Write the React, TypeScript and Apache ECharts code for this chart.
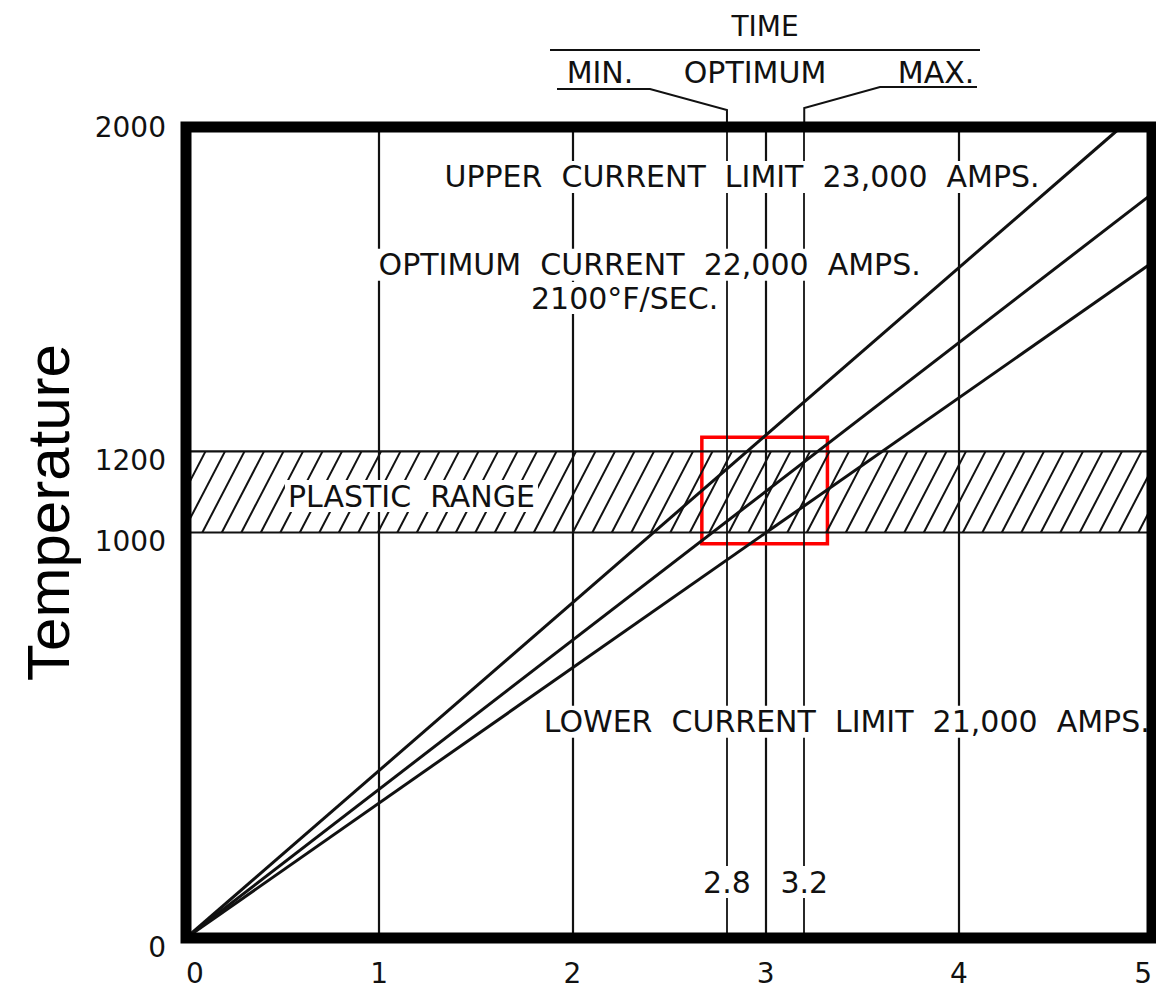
import React, { useEffect, useRef } from "react";
import * as echarts from "echarts";

// ---- data ----
const X_TICKS = [0, 1, 2, 3, 4, 5];
const Y_TICKS = [0, 1000, 1200, 2000];
const UPPER_LIMIT = [[0, 0], [4.84, 2000]];
const OPTIMUM_CURRENT = [[0, 0], [5, 1835]];
const LOWER_LIMIT = [[0, 0], [5, 1665]];
const PLASTIC_RANGE = [1000, 1200];
const TIME_MARKS = [2.8, 3.2];
const HIGHLIGHT_BOX = [[2.67, 972], [3.32, 1235]];

const UPPER_LABEL = "UPPER  CURRENT  LIMIT  23,000  AMPS.";
const OPT_LABEL = "OPTIMUM  CURRENT  22,000  AMPS.";
const RATE_LABEL = "2100°F/SEC.";
const LOWER_LABEL = "LOWER  CURRENT  LIMIT  21,000  AMPS.";
const PLASTIC_LABEL = "PLASTIC  RANGE";

const FONT = '"DejaVu Sans", sans-serif';
const INK = "#111";

export default function App() {
  const ref = useRef<HTMLDivElement>(null);

  useEffect(() => {
    if (!ref.current) return;
    const chart = echarts.init(ref.current, undefined, { renderer: "svg" });

    const annotations = [
      { name: UPPER_LABEL, value: [2.878, 1877] },
      { name: OPT_LABEL, value: [2.4, 1660] },
      { name: RATE_LABEL, value: [2.27, 1578] },
      { name: LOWER_LABEL, value: [3.42, 533] },
      { name: PLASTIC_LABEL, value: [1.167, 1090] },
      ...TIME_MARKS.map((t) => ({ name: String(t), value: [t, 138] })),
    ];

    const lineSeries = (name: string, data: number[][]) => ({
      name,
      type: "line",
      data,
      symbol: "none",
      z: 3,
      lineStyle: { color: INK, width: 3 },
    });

    const option: any = {
      animation: false,
      backgroundColor: "#fff",
      grid: {
        left: 186,
        right: 4,
        top: 127,
        bottom: 54,
        outerBoundsMode: "none",
        containLabel: false,
      },
      xAxis: {
        type: "value",
        min: X_TICKS[0],
        max: X_TICKS[X_TICKS.length - 1],
        interval: 1,
        offset: 9,
        axisLine: { show: true, lineStyle: { color: "#222", width: 2 } },
        axisTick: { show: false },
        axisLabel: {
          margin: 12,
          fontSize: 28,
          fontFamily: FONT,
          color: INK,
          customValues: X_TICKS,
          alignMinLabel: "left",
          alignMaxLabel: "right",
        },
        splitLine: { show: true, lineStyle: { color: INK, width: 2.2 } },
      },
      yAxis: {
        type: "value",
        min: 0,
        max: 2000,
        name: "Temperature",
        nameLocation: "middle",
        nameRotate: 90,
        nameGap: 108,
        nameTextStyle: {
          fontSize: 60,
          fontFamily: '"Liberation Sans", Arial, sans-serif',
          color: "#000",
          padding: [0, 0, 0, 40],
        },
        axisLine: { show: false },
        axisTick: { show: false },
        splitLine: { show: false },
        axisLabel: {
          customValues: Y_TICKS,
          margin: 20,
          fontSize: 28,
          fontFamily: FONT,
          color: INK,
          formatter: (v: number) => (v === 2000 ? "{t|" + v + "}" : "{l|" + v + "}"),
          rich: {
            t: { fontSize: 28, fontFamily: FONT, color: INK },
            l: { fontSize: 28, fontFamily: FONT, color: INK, padding: [18, 0, 0, 0] },
          },
        },
      },
      series: [
        {
          type: "custom",
          name: "Plastic range",
          z: 1,
          data: [PLASTIC_RANGE],
          renderItem: (params: any, api: any) => {
            const cs = params.coordSys;
            const yb = api.coord([0, api.value(0)])[1];
            const yt = api.coord([0, api.value(1)])[1];
            const xl = cs.x;
            const xr = cs.x + cs.width;
            const h = yb - yt;
            const dx = h * 0.52;
            const step = 19.5;
            const children: any[] = [];
            for (let x0 = xl - dx; x0 < xr; x0 += step) {
              let x1 = x0, y1 = yb, x2 = x0 + dx, y2 = yt;
              if (x1 < xl) {
                const t = (xl - x0) / dx;
                x1 = xl;
                y1 = yb - t * h;
              }
              if (x2 > xr) {
                const t = (xr - x0) / dx;
                x2 = xr;
                y2 = yb - t * h;
              }
              if (x2 <= x1) continue;
              children.push({
                type: "line",
                shape: { x1, y1, x2, y2 },
                style: { stroke: INK, lineWidth: 2 },
              });
            }
            children.push({
              type: "line",
              shape: { x1: xl, y1: yt, x2: xr, y2: yt },
              style: { stroke: INK, lineWidth: 2.2 },
            });
            children.push({
              type: "line",
              shape: { x1: xl, y1: yb, x2: xr, y2: yb },
              style: { stroke: INK, lineWidth: 2.2 },
            });
            return { type: "group", children };
          },
        },
        lineSeries("Upper current limit", UPPER_LIMIT),
        lineSeries("Optimum current", OPTIMUM_CURRENT),
        {
          ...lineSeries("Lower current limit", LOWER_LIMIT),
          markLine: {
            silent: true,
            symbol: "none",
            label: { show: false },
            lineStyle: { color: INK, width: 1.8, type: "solid" },
            data: TIME_MARKS.map((t) => ({ xAxis: t })),
          },
        },
        {
          type: "scatter",
          name: "annotations",
          z: 10,
          symbolSize: 0,
          itemStyle: { opacity: 1 },
          data: annotations,
          label: {
            show: true,
            position: "inside",
            formatter: "{b}",
            fontSize: 30,
            fontFamily: FONT,
            color: INK,
            backgroundColor: "#fff",
            padding: [1, 3],
          },
          markArea: {
            silent: true,
            itemStyle: {
              color: "rgba(0,0,0,0)",
              borderColor: "#ff0000",
              borderWidth: 3.5,
            },
            data: [[{ coord: HIGHLIGHT_BOX[0] }, { coord: HIGHLIGHT_BOX[1] }]],
          },
        },
      ],
    };

    chart.setOption(option);

    const p28 = chart.convertToPixel({ xAxisIndex: 0 }, TIME_MARKS[0]) as number;
    const p32 = chart.convertToPixel({ xAxisIndex: 0 }, TIME_MARKS[1]) as number;
    const [gx0, gy0] = chart.convertToPixel({ gridIndex: 0 }, [X_TICKS[0], 0]) as number[];
    const [gx1, gy1] = chart.convertToPixel({ gridIndex: 0 }, [X_TICKS[X_TICKS.length - 1], 2000]) as number[];
    const hdrFont = { fontSize: 28, fontFamily: FONT, fill: INK };

    chart.setOption({
      graphic: [
        {
          type: "rect",
          z: 100,
          shape: { x: gx0, y: gy1, width: gx1 - gx0, height: gy0 - gy1 },
          style: { stroke: "#000", lineWidth: 11, fill: "none", lineJoin: "miter" },
        },
        { type: "text", x: 765, y: 26, style: { text: "TIME", ...hdrFont, align: "center", verticalAlign: "middle" } },
        { type: "line", shape: { x1: 550, y1: 50, x2: 980, y2: 50 }, style: { stroke: INK, lineWidth: 2 } },
        { type: "text", x: 600, y: 72, style: { text: "MIN.", ...hdrFont, fontSize: 30, align: "center", verticalAlign: "middle" } },
        { type: "text", x: 755, y: 72, style: { text: "OPTIMUM", ...hdrFont, fontSize: 30, align: "center", verticalAlign: "middle" } },
        { type: "text", x: 936, y: 72, style: { text: "MAX.", ...hdrFont, fontSize: 30, align: "center", verticalAlign: "middle" } },
        {
          type: "polyline",
          shape: { points: [[557, 89], [650, 89], [p28, 110], [p28, gy1]] },
          style: { stroke: INK, lineWidth: 2, fill: "none" },
        },
        {
          type: "polyline",
          shape: { points: [[977, 87], [880, 87], [p32, 108], [p32, gy1]] },
          style: { stroke: INK, lineWidth: 2, fill: "none" },
        },
      ],
    });

    return () => chart.dispose();
  }, []);

  return (
    <div
      ref={ref}
      style={{ position: "absolute", left: 0, top: 0, width: 1156, height: 992, background: "#fff" }}
    />
  );
}
